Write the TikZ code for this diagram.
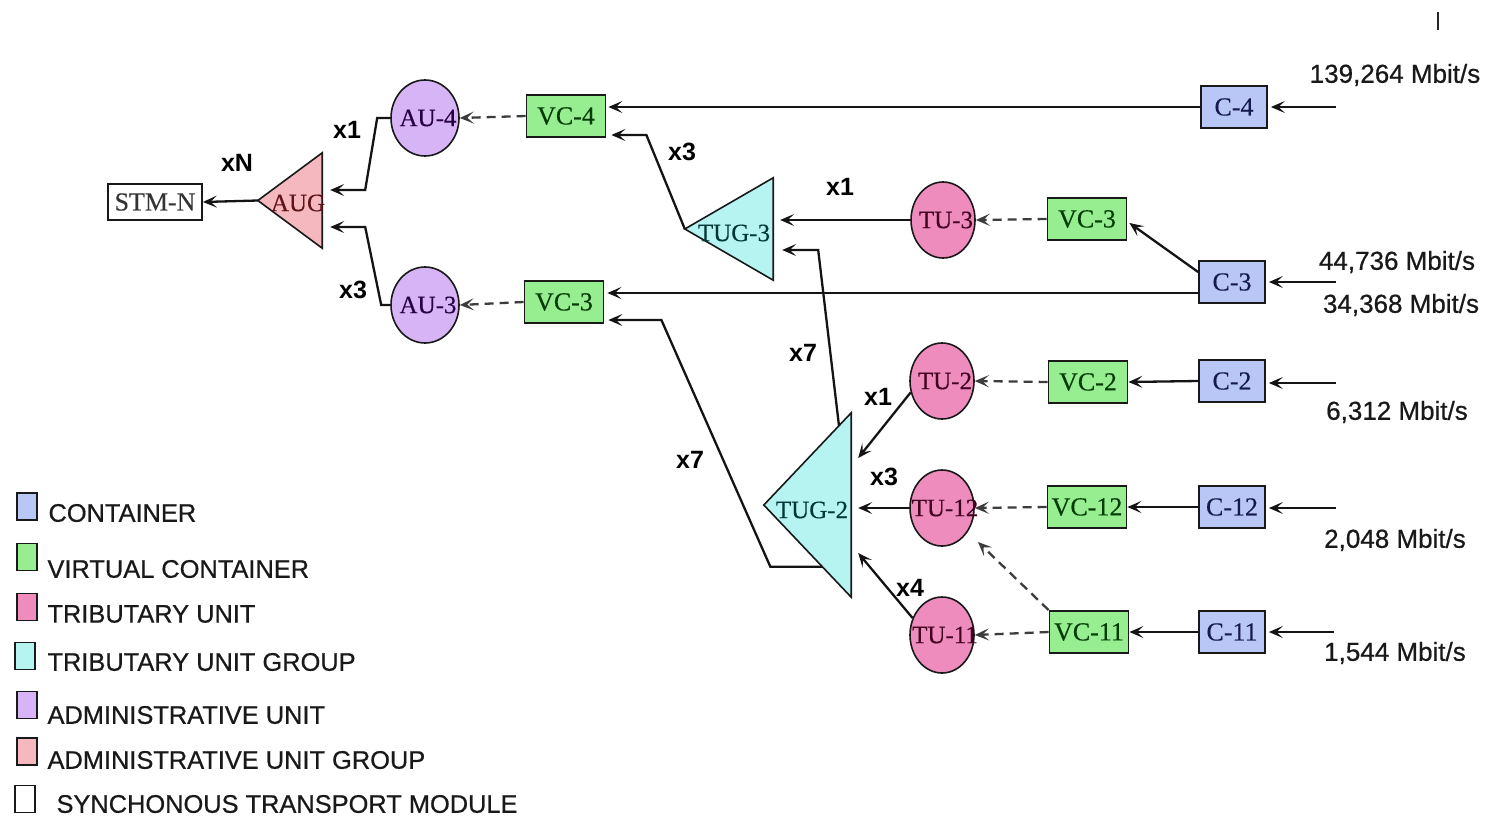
\documentclass[tikz,border=0pt]{standalone}
\usepackage{fontspec}
\setmainfont{Liberation Serif}
\newfontfamily\arial{Liberation Sans}
\newfontfamily\arialm[FakeBold=0.6]{Liberation Sans}
\newfontfamily\timesm[FakeBold=0.3]{Liberation Serif}
\usetikzlibrary{arrows.meta,calc,shapes.geometric}
\definecolor{cfill}{RGB}{184,199,245}
\definecolor{vcfill}{RGB}{150,238,145}
\definecolor{tufill}{RGB}{238,140,190}
\definecolor{tugfill}{RGB}{182,244,242}
\definecolor{aufill}{RGB}{214,180,246}
\definecolor{augfill}{RGB}{244,184,190}
\definecolor{ctext}{RGB}{20,25,80}
\definecolor{vctext}{RGB}{5,60,5}
\definecolor{tutext}{RGB}{65,0,30}
\definecolor{tugtext}{RGB}{0,55,55}
\definecolor{autext}{RGB}{40,0,65}
\definecolor{augtext}{RGB}{95,20,25}
\definecolor{dashgray}{RGB}{60,60,60}
\newcommand{\shclap}[1]{\clap{\hspace{6pt}#1}}
\begin{document}
\begin{tikzpicture}[x=1pt,y=-1pt,
  nodefont/.style={font=\timesm\fontsize{26}{26}\selectfont},
  ellfont/.style={font=\timesm\fontsize{25}{25}\selectfont},
  cbox/.style={rectangle,draw=black!90,line width=1.8pt,fill=cfill,text=ctext,minimum width=66,minimum height=42,inner sep=0,nodefont},
  vcbox/.style={rectangle,draw=black!90,line width=1.8pt,fill=vcfill,text=vctext,minimum width=79,minimum height=42,inner sep=0,nodefont},
  tuell/.style={ellipse,draw=black!90,line width=1.6pt,fill=tufill,text=tutext,minimum width=64,minimum height=76,inner sep=0,ellfont},
  auell/.style={ellipse,draw=black!90,line width=1.6pt,fill=aufill,text=autext,minimum width=68,minimum height=76,inner sep=0,ellfont},
  tribox/.style={rectangle,inner sep=0},
  trifill/.style={line width=1.6pt,draw=black!90},
  arr/.style={-{Stealth[length=14pt,width=12pt,inset=6.5pt]},line width=2.3pt,draw=black!92},
  darr/.style={arr,dashgray,dash pattern=on 9pt off 6pt},
  mult/.style={font=\arial\bfseries\fontsize{25}{25}\selectfont},
  rate/.style={font=\arialm\fontsize{26}{27}\selectfont,text=black!90},
  legtext/.style={font=\arialm\fontsize{25.4}{27}\selectfont,text=black!90,anchor=west},
  legbox/.style={draw=black!90,line width=1.7pt,minimum width=20,minimum height=27,inner sep=0}
  ]
\useasboundingbox[fill=white] (0,0) rectangle (1487,819);

% ---- nodes ----
\node[rectangle,draw=black!90,line width=1.8pt,fill=white,minimum width=94,minimum height=36,inner sep=0,nodefont,text=black!80] (stm) at (155,202) {STM-N};
\node[tribox,minimum width=64,minimum height=95] (aug) at (290,200.5) {};
\draw[trifill,fill=augfill] (aug.west) -- (aug.north east) -- (aug.south east) -- cycle;
\node[ellfont,text=augtext,inner sep=0] (augt) at (298,203) {AUG};

\node[auell] (au4) at (425,118) {\shclap{AU-4}};
\node[auell] (au3) at (425,305) {\shclap{AU-3}};
\node[vcbox] (vc4) at (566,116) {VC-4};
\node[vcbox] (vc3l) at (564,302) {VC-3};

\node[tribox,minimum width=88,minimum height=102] (tug3) at (729,229) {};
\draw[trifill,fill=tugfill] (tug3.west) -- (tug3.north east) -- (tug3.south east) -- cycle;
\node[ellfont,text=tugtext,inner sep=0] (tug3t) at (734,233) {TUG-3};

\node[tribox,minimum width=87,minimum height=184] (tug2) at (807.5,505) {};
\draw[trifill,fill=tugfill] (tug2.west) -- (tug2.north east) -- (tug2.south east) -- cycle;
\node[ellfont,text=tugtext,inner sep=0] (tug2t) at (812,510) {TUG-2};

\node[tuell] (tu3) at (943,220) {\shclap{TU-3}};
\node[tuell] (tu2) at (942,381) {\shclap{TU-2}};
\node[tuell] (tu12) at (942,508) {\shclap{TU-12}};
\node[tuell] (tu11) at (942,635) {\shclap{TU-11}};

\node[vcbox] (vc3r) at (1087,219) {VC-3};
\node[vcbox] (vc2) at (1088,382) {VC-2};
\node[vcbox] (vc12) at (1087,507) {VC-12};
\node[vcbox] (vc11) at (1089,632) {VC-11};

\node[cbox] (c4) at (1234,107) {C-4};
\node[cbox] (c3) at (1232,282) {C-3};
\node[cbox] (c2) at (1232,381) {C-2};
\node[cbox] (c12) at (1232,507) {C-12};
\node[cbox] (c11) at (1232,632) {C-11};

% input coordinates
\coordinate (in4) at (1336,107);
\coordinate (in3) at (1336,282);
\coordinate (in2) at (1336,383);
\coordinate (in12) at (1336,508);
\coordinate (in11) at (1334,632);

% ---- rate labels ----
\node[rate] (r4) at (1395,75) {139,264 Mbit/s};
\node[rate] (r3a) at (1397,262) {44,736 Mbit/s};
\node[rate] (r3b) at (1401,305) {34,368 Mbit/s};
\node[rate] (r2) at (1397,412) {6,312 Mbit/s};
\node[rate] (r12) at (1395,540) {2,048 Mbit/s};
\node[rate] (r11) at (1395,653) {1,544 Mbit/s};

% ---- multiplicity labels ----
\node[mult] (lxn) at (237,163) {xN};
\node[mult] (lx1a) at (347,130) {x1};
\node[mult] (lx3a) at (353,290) {x3};
\node[mult] (lx3b) at (682,152) {x3};
\node[mult] (lx1b) at (840,187) {x1};
\node[mult] (lx7a) at (803,353) {x7};
\node[mult] (lx7b) at (690,460) {x7};
\node[mult] (lx1c) at (878,397) {x1};
\node[mult] (lx3c) at (884,477) {x3};
\node[mult] (lx4) at (910,588) {x4};

% ---- connectors ----
\draw[arr] (aug.west) -- (stm.east);
\draw[arr] (au4.west) -- ++(-13,0) -- ($(aug.east)+(43,-10.5)$) -- ($(aug.east)+(8,-10.5)$);
\draw[arr] (au3.west) -- ++(-9,0) -- ($(aug.east)+(43,26.5)$) -- ($(aug.east)+(8,26.5)$);
\draw[darr] (vc4.west) -- (au4.east);
\draw[darr] (vc3l.west) -- (au3.east);
\draw[arr] (c4.west) -- ($(vc4.east |- c4.west)+(2,0)$);
\draw[arr] (tug3.west) -- ($(vc4.east)+(40,19)$) -- ($(vc4.east)+(5,19)$);
\draw[arr] (tu3.west) -- ($(tug3.east |- tu3.west)+(7,0)$);
\draw[darr] (vc3r.west) -- (tu3.east);
\draw[arr] ($(c3.west)+(0,-10)$) -- ($(vc3r.east)+(2,4)$);
\draw[arr] ($(c3.west)+(0,11)$) -- ($(vc3l.east |- c3.west)+(3,11)$);
\draw[arr] ($(tug2.west)!0.67!(tug2.south east)$) -- ++(-52,0) -- ($(vc3l.east)+(57,18)$) -- ($(vc3l.east)+(4,18)$);
\draw[arr] ($(tug2.west)!0.86!(tug2.north east)$) -- ($(tug3.east)+(45,21)$) -- ($(tug3.east)+(9,21)$);
\draw[arr] (tu2.200) -- ($(tug2.east)+(7,-47)$);
\draw[arr] (tu12.west) -- ($(tug2.east |- tu12.west)+(7,0)$);
\draw[arr] (tu11.150) -- ($(tug2.east)+(7,48)$);
\draw[darr] (vc2.west) -- (tu2.east);
\draw[darr] (vc12.west) -- (tu12.east);
\draw[darr] (vc11.west) -- (tu11.east);
\draw[darr] (vc11.north west) -- ($(tu12.center)+(36,34)$);
\draw[arr] (c2.west) -- (vc2.east);
\draw[arr] (c12.west) -- (vc12.east);
\draw[arr] (c11.west) -- (vc11.east);
\draw[arr] (in4) -- ($(c4.east)+(3,0)$);
\draw[arr] (in3) -- ($(c3.east)+(3,0)$);
\draw[arr] (in2) -- ($(c2.east |- in2)+(3,0)$);
\draw[arr] (in12) -- ($(c12.east |- in12)+(3,0)$);
\draw[arr] (in11) -- ($(c11.east)+(3,0)$);

% stray mark top right
\draw[line width=1.8pt,black!85] (1438,12) -- (1438,30);

% ---- legend ----
\node[legbox,fill=cfill] (lg1) at (27,506.5) {};
\node[legtext] (lt1) at (45,513) {CONTAINER};
\node[legbox,fill=vcfill] (lg2) at (27,557) {};
\node[legtext] (lt2) at (44,569) {VIRTUAL CONTAINER};
\node[legbox,fill=tufill] (lg3) at (27,607) {};
\node[legtext] (lt3) at (44,614) {TRIBUTARY UNIT};
\node[legbox,fill=tugfill] (lg4) at (25,656) {};
\node[legtext] (lt4) at (44,662) {TRIBUTARY UNIT GROUP};
\node[legbox,fill=aufill] (lg5) at (27,705) {};
\node[legtext] (lt5) at (44,715) {ADMINISTRATIVE UNIT};
\node[legbox,fill=augfill] (lg6) at (27,751.5) {};
\node[legtext] (lt6) at (44,760) {ADMINISTRATIVE UNIT GROUP};
\node[legbox,fill=white] (lg7) at (25,799) {};
\node[legtext] (lt7) at (53,804) {SYNCHONOUS TRANSPORT MODULE};
\end{tikzpicture}
\end{document}
